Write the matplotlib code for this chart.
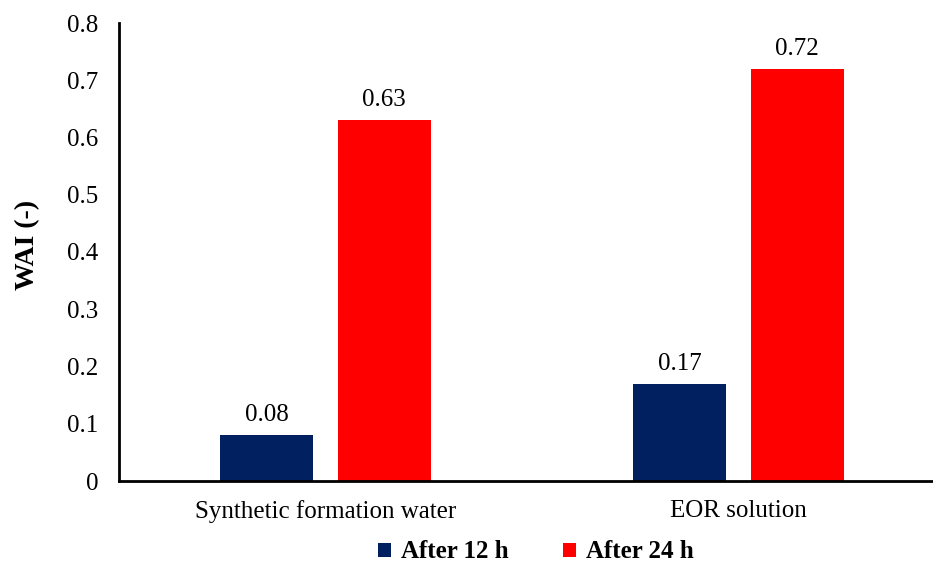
import numpy as np
import matplotlib.pyplot as plt

plt.rcParams['font.family'] = ['Liberation Serif', 'DejaVu Serif']

# data
categories = ['Synthetic formation water', 'EOR solution']
series_names = ['After 12 h', 'After 24 h']
after_12h = [0.08, 0.17]
after_24h = [0.63, 0.72]
colors = ['#002060', '#FF0000']

fig = plt.figure(figsize=(9.33, 5.68), dpi=100)
ax = fig.add_axes([119 / 933, 1 - 481 / 568, 826 / 933, 458 / 568])

x = np.arange(len(categories))
w = 0.225
off = 0.1425
for vals, name, c, dx in zip([after_12h, after_24h], series_names, colors, [-off, off]):
    bars = ax.bar(x + dx, vals, width=w, color=c, label=name)
    for b, v in zip(bars, vals):
        ax.text(b.get_x() + b.get_width() / 2, v + 0.016, f'{v:.2f}',
                ha='center', va='bottom', fontsize=18)

ax.set_xlim(-0.5, 1.5)
ax.set_ylim(0, 0.8)
ax.set_yticks(np.arange(0, 0.81, 0.1))
ax.set_yticklabels(['0'] + [f'{t:.1f}' for t in np.arange(0.1, 0.81, 0.1)])
ax.set_xticks(x)
ax.set_xticklabels(categories)
ax.tick_params(length=0, labelsize=18)
ax.tick_params(axis='x', pad=14)
ax.tick_params(axis='y', pad=15)
ax.set_ylabel('WAI (-)', fontsize=20, fontweight='bold')
ax.yaxis.set_label_coords(-0.096, 0.515)

for s in ['top', 'right']:
    ax.spines[s].set_visible(False)
for s in ['left', 'bottom']:
    ax.spines[s].set_linewidth(2)

leg = fig.legend(loc='center', bbox_to_anchor=(536 / 933, 1 - 552 / 568), ncol=2, frameon=False,
                 prop={'size': 18, 'weight': 'bold'}, handlelength=0.5, handleheight=0.5,
                 handletextpad=0.4, columnspacing=2.2)

fig.savefig('out.png', dpi=100)
